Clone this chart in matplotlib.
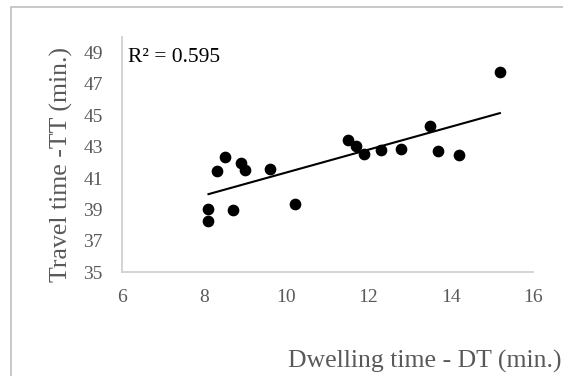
import numpy as np
import matplotlib
matplotlib.use('Agg')
import matplotlib.pyplot as plt
from matplotlib.patches import Rectangle

plt.rcParams['font.family'] = ['Liberation Serif', 'DejaVu Serif']

# Data
dwelling = [8.1, 8.1, 8.3, 8.5, 8.7, 8.9, 9.0, 9.6, 10.2, 11.5, 11.7, 11.9,
            12.3, 12.8, 13.5, 13.7, 14.2, 15.2]
travel = [39.03, 38.24, 41.43, 42.33, 38.94, 41.97, 41.54, 41.60, 39.35, 43.44,
          43.01, 42.50, 42.76, 42.82, 44.31, 42.74, 42.44, 47.74]
x_ticks = [6, 8, 10, 12, 14, 16]
y_ticks = [35, 37, 39, 41, 43, 45, 47, 49]
r2_label = 'R² = 0.595'

x = np.array(dwelling)
y = np.array(travel)

fig = plt.figure(figsize=(5.63, 3.76), dpi=100)
# outer chart border
fig.patches.append(Rectangle((11 / 563, -0.05), 1.2, 1 - 7.3 / 376 + 0.05,
                             transform=fig.transFigure, fill=False,
                             edgecolor='#bfbfbf', linewidth=1.2))

ax = fig.add_axes([0.2172, 0.2758, 0.729, 0.6266])
ax.scatter(x, y, s=55, color='black', zorder=3)

# linear trend line
k, b = np.polyfit(x, y, 1)
xs = np.array([x.min(), x.max()])
ax.plot(xs, k * xs + b, color='black', linewidth=1.5)

ax.set_xlim(6, 16)
ax.set_ylim(35, 50)
ax.set_xticks(x_ticks)
ax.set_yticks(y_ticks)
ax.tick_params(length=0, labelsize=14, labelcolor='#595959')
ax.tick_params(axis='y', pad=14)
ax.tick_params(axis='x', pad=12)
for side in ['top', 'right']:
    ax.spines[side].set_visible(False)
for side in ['left', 'bottom']:
    ax.spines[side].set_color('#d0d0d0')
    ax.spines[side].set_linewidth(1.3)

fig.text(128 / 563, 1 - 62 / 376, r2_label, fontsize=15.5,
         ha='left', va='baseline', color='black')

fig.text(61 / 563, 1 - 165 / 376, 'Travel time -TT (min.)', rotation=90,
         ha='center', va='center', fontsize=18.5, color='#595959')
fig.text(562 / 563, 1 - 368 / 376, 'Dwelling time - DT (min.)',
         ha='right', va='baseline', fontsize=18.5, color='#595959')

fig.savefig('out.png', dpi=100)
